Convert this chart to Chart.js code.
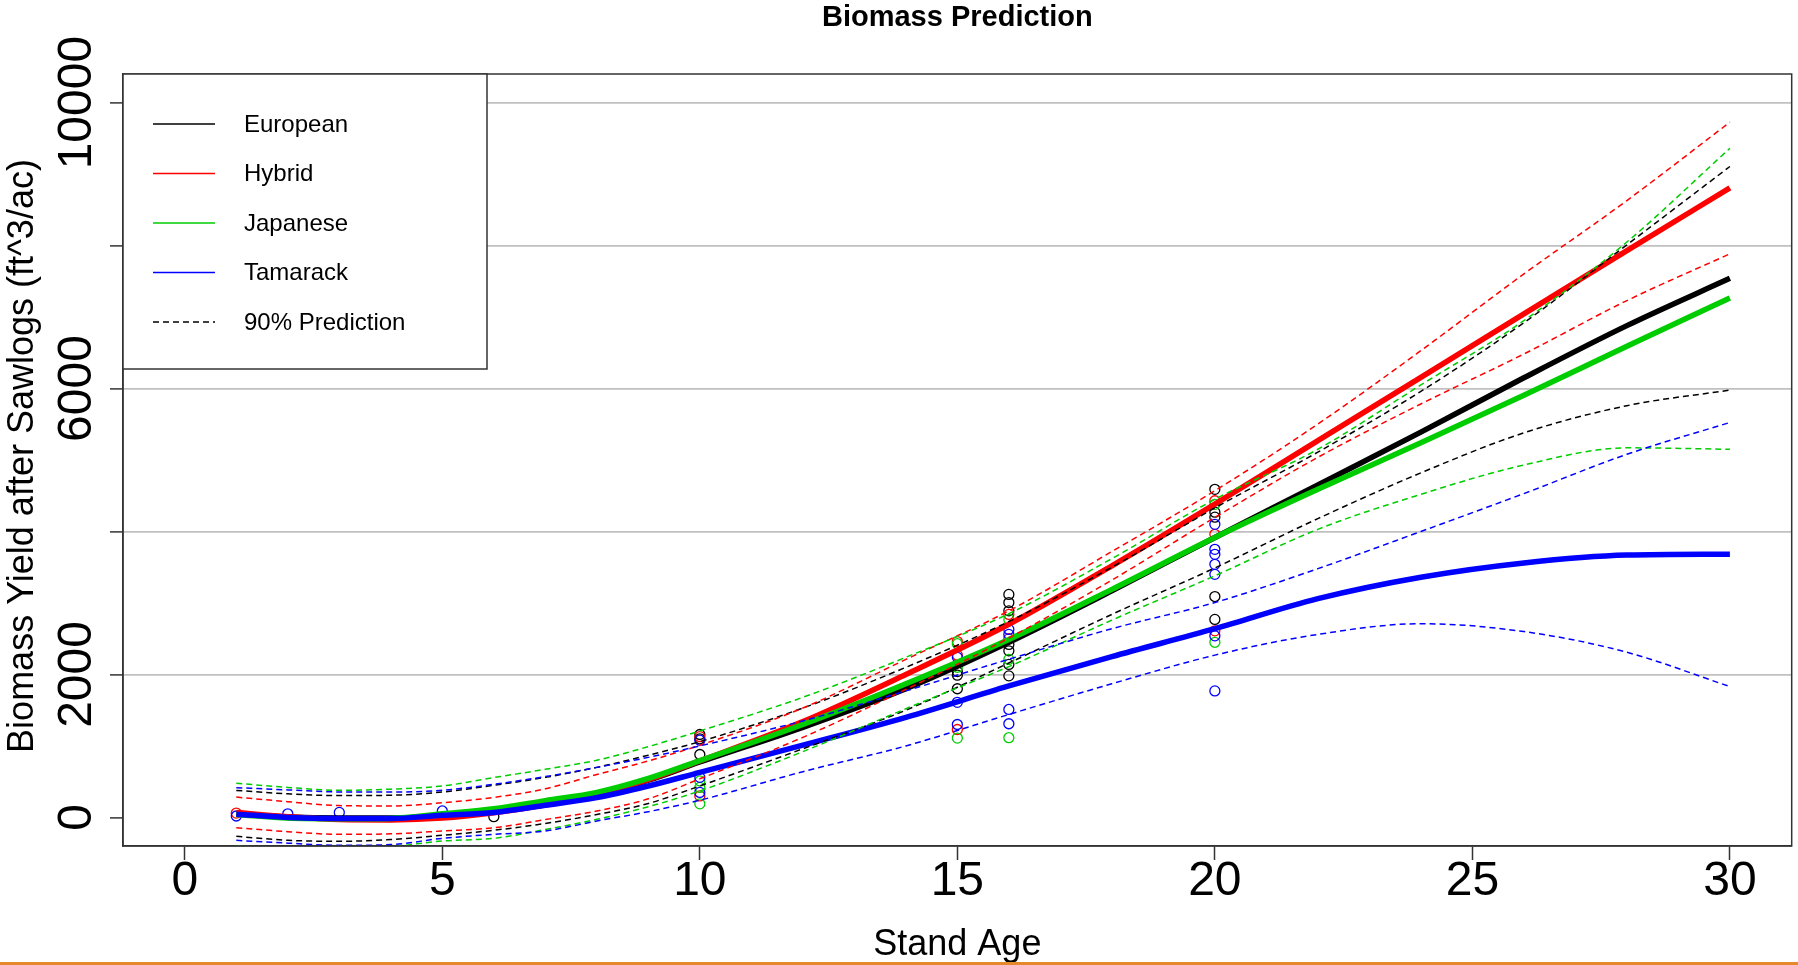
<!DOCTYPE html>
<html>
<head>
<meta charset="utf-8">
<title>Biomass Prediction</title>
<script src="https://cdn.jsdelivr.net/npm/chart.js@4.4.1/dist/chart.umd.min.js"></script>
<style>
  html, body { margin: 0; padding: 0; background: #fff; }
  canvas { display: block; }
</style>
</head>
<body>
<canvas id="myChart" width="1798" height="965"></canvas>
<script>
const ctx = document.getElementById('myChart').getContext('2d');

const ages = [1, 2, 3, 4, 5, 6, 7, 8, 9, 10, 12, 14, 16, 18, 20, 22, 24, 26, 28, 30];

const europeanFit   = [50, 5, -10, -10, 25, 95, 190, 320, 520, 775, 1260, 1800, 2450, 3170, 3916, 4650, 5390, 6150, 6880, 7541];
const europeanUpper = [378, 330, 305, 310, 355, 450, 560, 700, 870, 1060, 1530, 2100, 2740, 3500, 4330, 5110, 5960, 6920, 8010, 9106];
const europeanLower = [-265, -320, -335, -310, -250, -180, -85, 40, 195, 440, 960, 1500, 2160, 2840, 3490, 4180, 4820, 5380, 5760, 5978];

const hybridFit   = [70, 10, -30, -35, -10, 65, 175, 335, 530, 790, 1340, 2000, 2702, 3520, 4383, 5270, 6157, 7043, 7930, 8807];
const hybridUpper = [284, 220, 165, 160, 205, 280, 400, 600, 790, 1010, 1530, 2210, 2890, 3720, 4570, 5503, 6530, 7603, 8630, 9726];
const hybridLower = [-144, -200, -237, -230, -190, -145, -30, 90, 260, 540, 1120, 1790, 2510, 3320, 4197, 5037, 5784, 6483, 7230, 7884];

const japaneseFit   = [40, -10, -20, -15, 50, 120, 235, 350, 545, 795, 1300, 1870, 2490, 3190, 3916, 4590, 5240, 5905, 6590, 7266];
const japaneseUpper = [477, 420, 379, 395, 440, 557, 673, 800, 990, 1210, 1680, 2240, 2850, 3620, 4450, 5150, 6050, 6950, 8050, 9361];
const japaneseLower = [-401, -430, -447, -410, -330, -293, -170, -27, 150, 370, 920, 1520, 2110, 2760, 3380, 4030, 4520, 4930, 5170, 5150];

const tamarackFit   = [45, 0, -15, -15, 30, 70, 170, 277, 440, 630, 1010, 1400, 1839, 2250, 2640, 3060, 3360, 3560, 3670, 3683];
const tamarackUpper = [416, 385, 356, 355, 380, 463, 571, 700, 840, 1000, 1350, 1770, 2213, 2640, 3006, 3480, 4000, 4530, 5080, 5525];
const tamarackLower = [-321, -360, -391, -380, -293, -237, -190, -50, 80, 240, 640, 1000, 1440, 1870, 2270, 2560, 2710, 2600, 2310, 1830];

// observed plots
const europeanObsAge = [6, 10, 10, 10, 15, 15, 15, 16, 16, 16, 16, 16, 16, 16, 20, 20, 20, 20, 20];
const europeanObs    = [10, 1160, 1100, 880, 2040, 1990, 1800, 3120, 3005, 2890, 2420, 2330, 2140, 1980, 4590, 4270, 4200, 3090, 2770];
const hybridObsAge = [1, 10, 10, 15, 15, 15, 16, 16, 20, 20, 20];
const hybridObs    = [60, 1130, 300, 2460, 2270, 1230, 2840, 2500, 4430, 3960, 2610];
const japaneseObsAge = [10, 10, 10, 15, 15, 15, 16, 16, 16, 20, 20];
const japaneseObs    = [510, 190, 420, 2430, 2100, 1110, 2770, 2210, 1115, 4380, 2450];
const tamarackObsAge = [1, 2, 3, 5, 10, 10, 10, 15, 15, 15, 16, 16, 16, 16, 20, 20, 20, 20, 20, 20, 20];
const tamarackObs    = [20, 50, 70, 90, 1080, 350, 560, 2240, 1610, 1300, 2630, 2560, 1510, 1310, 4100, 3750, 3680, 3540, 3400, 2540, 1770];

const speciesNames = ['European', 'Hybrid', 'Japanese', 'Tamarack'];
const speciesColors = ['#000000', '#ff0000', '#00cd00', '#0000ff'];
const bandLabel = '90% Prediction';

const xTickValues = [0, 5, 10, 15, 20, 25, 30];
const yTickValues = [0, 2000, 4000, 6000, 8000, 10000];
const yTickLabels = ['0', '2000', '', '6000', '', '10000'];

const FONT = '"Liberation Sans", Arial, sans-serif';

function toXY(xs, ys) {
    return xs.map((x, i) => ({ x: x, y: ys[i] }));
}

function curve(label, vals, color, dashed, order) {
    return {
        type: 'line',
        label: label,
        data: toXY(ages, vals),
        borderColor: color,
        borderWidth: dashed ? 1.5 : 5.5,
        borderDash: dashed ? [6, 4] : [],
        pointRadius: 0,
        fill: false,
        cubicInterpolationMode: 'monotone',
        clip: 0,
        order: order
    };
}

function observed(label, xs, ys, color, order) {
    return {
        type: 'scatter',
        label: label,
        data: toXY(xs, ys),
        borderColor: color,
        backgroundColor: 'rgba(0,0,0,0)',
        pointRadius: 5,
        pointBorderWidth: 1.3,
        showLine: false,
        order: order
    };
}

const fits = [europeanFit, hybridFit, japaneseFit, tamarackFit];
const uppers = [europeanUpper, hybridUpper, japaneseUpper, tamarackUpper];
const lowers = [europeanLower, hybridLower, japaneseLower, tamarackLower];
const obsAges = [europeanObsAge, hybridObsAge, japaneseObsAge, tamarackObsAge];
const obsVals = [europeanObs, hybridObs, japaneseObs, tamarackObs];

const datasets = [];
speciesNames.forEach((name, i) => {
    datasets.push(observed(name + ' obs', obsAges[i], obsVals[i], speciesColors[i], 100 - i));
    datasets.push(curve(name, fits[i], speciesColors[i], false, 50 - i));
    datasets.push(curve(name + ' upper', uppers[i], speciesColors[i], true, 20 - i));
    datasets.push(curve(name + ' lower', lowers[i], speciesColors[i], true, 20 - i));
});

// titles, rotated y labels, box and legend drawn the way R lays them out
const rDecor = {
    id: 'rDecor',
    afterDatasetsDraw(chart) {
        const c = chart.ctx;
        const a = chart.chartArea;
        c.save();
        c.strokeStyle = '#333';
        c.lineWidth = 1.5;
        c.strokeRect(a.left, a.top, a.right - a.left, a.bottom - a.top);

        // legend box, top left
        const lx = a.left, ly = a.top, lw = 364, lh = 295;
        c.fillStyle = '#fff';
        c.fillRect(lx, ly, lw, lh);
        c.strokeRect(lx, ly, lw, lh);
        const names = speciesNames.concat([bandLabel]);
        const cols = speciesColors.concat(['#000000']);
        c.font = '24px ' + FONT;
        c.textBaseline = 'middle';
        c.textAlign = 'left';
        names.forEach((n, i) => {
            const yy = ly + 50 + i * 49.5;
            c.strokeStyle = cols[i];
            c.lineWidth = 1.5;
            c.setLineDash(i === 4 ? [6, 4] : []);
            c.beginPath();
            c.moveTo(lx + 30, yy);
            c.lineTo(lx + 92, yy);
            c.stroke();
            c.fillStyle = '#000';
            c.fillText(n, lx + 121, yy + 1);
        });
        c.setLineDash([]);
        c.restore();
    },
    afterDraw(chart) {
        const c = chart.ctx;
        const a = chart.chartArea;
        const yScale = chart.scales.y;
        const midX = (a.left + a.right) / 2;
        c.save();
        c.fillStyle = '#000';

        c.font = 'bold 29px ' + FONT;
        c.textAlign = 'center';
        c.textBaseline = 'alphabetic';
        c.fillText('Biomass Prediction', midX, 26);

        c.font = '36px ' + FONT;
        c.fillText('Stand Age', midX, 955);

        c.save();
        c.translate(33, (a.top + a.bottom) / 2 - 4);
        c.rotate(-Math.PI / 2);
        c.fillText('Biomass Yield after Sawlogs (ft^3/ac)', 0, 0);
        c.restore();

        c.font = '48px ' + FONT;
        yTickValues.forEach((v, i) => {
            if (!yTickLabels[i]) return;
            c.save();
            c.translate(91, yScale.getPixelForValue(v));
            c.rotate(-Math.PI / 2);
            c.fillText(yTickLabels[i], 0, 0);
            c.restore();
        });

        c.fillStyle = '#e5892a';
        c.fillRect(0, 962, chart.width, 3);
        c.restore();
    }
};

const myChart = new Chart(ctx, {
    type: 'line',
    data: { datasets: datasets },
    plugins: [rDecor],
    options: {
        responsive: false,
        animation: false,
        layout: { padding: { top: 74, right: 6, left: 0, bottom: 0 } },
        plugins: {
            legend: { display: false },
            tooltip: { enabled: false },
            title: { display: false }
        },
        scales: {
            x: {
                type: 'linear',
                min: -1.2,
                max: 31.2,
                afterBuildTicks: (axis) => { axis.ticks = xTickValues.map(v => ({ value: v })); },
                afterFit: (axis) => { axis.height = 119; },
                grid: { drawOnChartArea: false, drawTicks: true, tickLength: 14, tickColor: '#333', tickWidth: 1.5 },
                border: { color: '#333', width: 1.5 },
                ticks: {
                    color: '#000',
                    font: { family: FONT, size: 48 },
                    padding: -7,
                    autoSkip: false,
                    maxRotation: 0,
                    minRotation: 0
                }
            },
            y: {
                type: 'linear',
                min: -400,
                max: 10400,
                afterBuildTicks: (axis) => { axis.ticks = yTickValues.map(v => ({ value: v })); },
                afterFit: (axis) => { axis.width = 123; },
                grid: {
                    color: (c) => (c.tick && c.tick.value === 0) ? 'rgba(0,0,0,0)' : '#c0c0c0',
                    lineWidth: 1.8,
                    drawTicks: true,
                    tickLength: 13,
                    tickColor: '#333',
                    tickWidth: 1.5
                },
                border: { color: '#333', width: 1.5 },
                ticks: { display: false }
            }
        }
    }
});
</script>
</body>
</html>
